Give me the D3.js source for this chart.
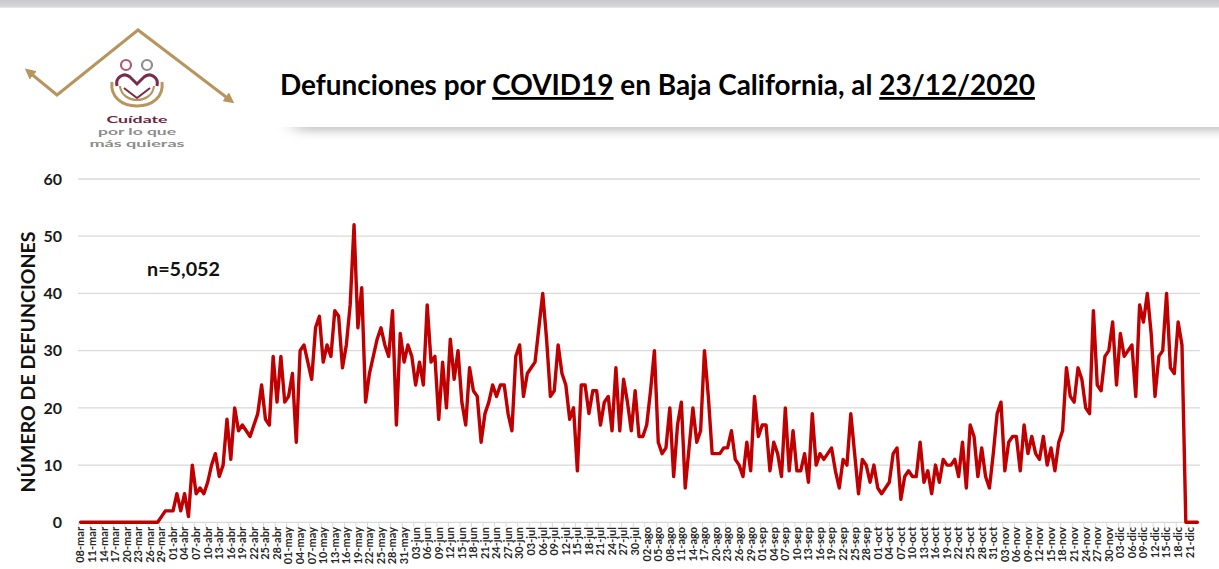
<!DOCTYPE html>
<html><head><meta charset="utf-8">
<script src="https://cdn.jsdelivr.net/npm/d3@7"></script>
<style>body{margin:0;background:#fff;overflow:hidden}svg{display:block}</style>
</head><body>
<svg id="c" width="1219" height="569"></svg>
<script>
// ---- data ----
const values = [
0,0,0,0,0,0,0,0,0,0,
0,0,0,0,0,0,0,0,0,0,
0,1,2,2,2,5,2,5,1,10,
5,6,5,7,10,12,8,10,18,11,
20,16,17,16,15,17,19,24,18,17,
29,21,29,21,22,26,14,30,31,28,
25,34,36,28,31,29,37,36,27,31,
38,52,34,41,21,26,29,32,34,31,
29,37,17,33,28,31,29,24,28,24,
38,28,29,18,28,20,32,25,30,21,
17,27,23,22,14,19,21,24,22,24,
24,19,16,29,31,22,26,27,28,34,
40,32,22,23,31,26,24,18,20,9,
24,24,19,23,23,17,21,22,16,27,
16,25,21,16,23,15,15,17,23,30,
14,12,13,20,8,17,21,6,13,20,
14,16,30,22,12,12,12,13,13,16,
11,10,8,14,9,22,15,17,17,9,
14,12,8,20,9,16,9,9,12,7,
19,10,12,11,12,13,9,6,11,10,
19,12,5,11,10,7,10,6,5,6,
7,12,13,4,8,9,8,8,14,7,
9,5,10,7,11,10,10,11,8,14,
6,17,15,8,13,8,6,12,19,21,
9,14,15,15,9,17,12,15,12,11,
15,10,13,9,14,16,27,22,21,27,
25,20,19,37,24,23,29,30,35,24,
33,29,30,31,22,38,35,40,33,22,
29,30,40,27,26,35,31,0,0,0,
0
];
const tickLabels = [
"08-mar","11-mar","14-mar","17-mar","20-mar","23-mar","26-mar","29-mar",
"01-abr","04-abr","07-abr","10-abr","13-abr","16-abr","19-abr","22-abr","25-abr","28-abr",
"01-may","04-may","07-may","10-may","13-may","16-may","19-may","22-may","25-may","28-may","31-may",
"03-jun","06-jun","09-jun","12-jun","15-jun","18-jun","21-jun","24-jun","27-jun","30-jun",
"03-jul","06-jul","09-jul","12-jul","15-jul","18-jul","21-jul","24-jul","27-jul","30-jul",
"02-ago","05-ago","08-ago","11-ago","14-ago","17-ago","20-ago","23-ago","26-ago","29-ago",
"01-sep","04-sep","07-sep","10-sep","13-sep","16-sep","19-sep","22-sep","25-sep","28-sep",
"01-oct","04-oct","07-oct","10-oct","13-oct","16-oct","19-oct","22-oct","25-oct","28-oct","31-oct",
"03-nov","06-nov","09-nov","12-nov","15-nov","18-nov","21-nov","24-nov","27-nov","30-nov",
"03-dic","06-dic","09-dic","12-dic","15-dic","18-dic","21-dic"
];
const labelStep = 3;
const yTicks = [0,10,20,30,40,50,60];
const titleParts = [
  {t:"Defunciones por ", u:false},{t:"COVID19", u:true},
  {t:" en Baja California, al ", u:false},{t:"23/12/2020", u:true}
];
const yTitle = "NÚMERO DE DEFUNCIONES";
const nLabel = "n=5,052";
const logoLines = ["Cuídate","por lo que","más quieras"];

// ---- drawing ----
const svg = d3.select("#c");
const defs = svg.append("defs");

function fit(sel, w){
  const fs = parseFloat(sel.attr("font-size"));
  const cw = sel.node().getComputedTextLength();
  sel.attr("font-size", (fs*w/cw).toFixed(2));
}

// top grey band
const tg = defs.append("linearGradient").attr("id","tg").attr("x1",0).attr("y1",0).attr("x2",0).attr("y2",1);
tg.append("stop").attr("offset","0%").attr("stop-color","#c9c9cd");
tg.append("stop").attr("offset","80%").attr("stop-color","#d6d6da");
tg.append("stop").attr("offset","100%").attr("stop-color","#eeeeef");
svg.append("rect").attr("x",0).attr("y",0).attr("width",1219).attr("height",8).attr("fill","url(#tg)");

// title shadow
const blur = defs.append("filter").attr("id","blur").attr("x","-10%").attr("y","-200%").attr("width","120%").attr("height","500%");
blur.append("feGaussianBlur").attr("stdDeviation","9 5");
svg.append("rect").attr("x",295).attr("y",118).attr("width",960).attr("height",13)
  .attr("fill","#c2c2c2").attr("filter","url(#blur)");
svg.append("rect").attr("x",260).attr("y",40).attr("width",960).attr("height",87).attr("fill","#fff");

// logo
const gold = "#b8955d";
const mk = defs.append("marker").attr("id","ah").attr("viewBox","0 0 10 10").attr("refX",5).attr("refY",5)
  .attr("markerWidth",3.6).attr("markerHeight",3.6).attr("orient","auto-start-reverse");
mk.append("path").attr("d","M0,0 L10,5 L0,10 z").attr("fill",gold);
svg.append("path").attr("d","M29,72 L57,95 L138,30 L230,100")
  .attr("fill","none").attr("stroke",gold).attr("stroke-width",3)
  .attr("marker-start","url(#ah)").attr("marker-end","url(#ah)");
svg.append("circle").attr("cx",126).attr("cy",65).attr("r",5).attr("fill","none").attr("stroke","#b25873").attr("stroke-width",2.2);
svg.append("circle").attr("cx",147).attr("cy",65).attr("r",5).attr("fill","none").attr("stroke","#8d8d8d").attr("stroke-width",2.2);
svg.append("path").attr("d","M112,82 C110,97 122,106 137,106 C152,106 164,97 162,82")
  .attr("fill","none").attr("stroke",gold).attr("stroke-width",3);
svg.append("path").attr("d","M120,86 C121,96 130,100 137,100 C144,100 153,96 154,86")
  .attr("fill","none").attr("stroke",gold).attr("stroke-width",2.2);
svg.append("path").attr("d","M117,86 C115,77 124,72 130,77 L137,84 L144,77 C150,72 159,77 157,86")
  .attr("fill","none").attr("stroke","#7a2b47").attr("stroke-width",3);
svg.append("path").attr("d","M124,88 C129,92 133,95 137,98 C141,95 145,92 150,88")
  .attr("fill","none").attr("stroke","#7a2b47").attr("stroke-width",2);
const logoSpec = [
  {y:123, w:61, fs:10, c:"#6e2441"},
  {y:135, w:78, fs:10, c:"#8c8c8c"},
  {y:147, w:95, fs:10, c:"#8c8c8c"}
];
svg.append("g").selectAll("text").data(logoLines).join("text")
  .attr("x",137).attr("y",(d,i)=>logoSpec[i].y).attr("text-anchor","middle")
  .attr("font-family","Lato").attr("font-weight","bold")
  .attr("font-size",(d,i)=>logoSpec[i].fs).attr("fill",(d,i)=>logoSpec[i].c)
  .attr("textLength",(d,i)=>logoSpec[i].w).attr("lengthAdjust","spacingAndGlyphs")
  .text(d=>d);

// title
const title = svg.append("text").attr("x",280).attr("y",95)
  .attr("font-family","Lato").attr("font-weight","bold").attr("font-size",24).attr("fill","#000");
title.selectAll("tspan").data(titleParts).join("tspan")
  .text(d=>d.t).style("text-decoration", d=>d.u?"underline":"none");
fit(title,755);

// scales
const x = d3.scaleBand().domain(d3.range(values.length)).range([78.7,1199.3]);
const cx = i => x(i) + x.bandwidth()/2;
const y = d3.scaleLinear().domain([0,60]).range([522.3,179]);

// gridlines
svg.append("g").selectAll("line").data(yTicks).join("line")
  .attr("x1",78).attr("x2",1200).attr("y1",d=>y(d)).attr("y2",d=>y(d))
  .attr("stroke","#d9d9d9").attr("stroke-width",1.3);

// y labels
svg.append("g").selectAll("text").data(yTicks).join("text")
  .attr("x",62).attr("y",d=>y(d)).attr("dy","0.36em").attr("text-anchor","end")
  .attr("font-family","Lato").attr("font-weight","bold").attr("font-size",16).attr("fill","#1a1a1a")
  .text(d=>d);

// x axis ticks and labels
const labelIdx = tickLabels.map((t,k)=>k*labelStep);
svg.append("g").selectAll("line").data(labelIdx).join("line")
  .attr("x1",d=>x(d)).attr("x2",d=>x(d)).attr("y1",522.3).attr("y2",527)
  .attr("stroke","#d9d9d9").attr("stroke-width",1);
svg.append("g").selectAll("text").data(tickLabels).join("text")
  .attr("transform",(d,k)=>`translate(${cx(k*labelStep)},527) rotate(-90)`)
  .attr("dy","0.35em").attr("text-anchor","end")
  .attr("font-family","Lato").attr("font-weight","bold").attr("font-size",11).attr("fill","#262626")
  .text(d=>d);

// y title
const yt = svg.append("text").attr("transform","translate(35,362) rotate(-90)").attr("text-anchor","middle")
  .attr("font-family","Lato").attr("font-weight","bold").attr("font-size",22).attr("fill","#111").text(yTitle);
fit(yt,261);

// n label
const nl = svg.append("text").attr("x",147).attr("y",276)
  .attr("font-family","Lato").attr("font-weight","bold").attr("font-size",18).attr("fill","#111").text(nLabel);
fit(nl,73);

// line
svg.append("path").datum(values)
  .attr("d", d3.line().x((d,i)=>cx(i)).y(d=>y(d)))
  .attr("fill","none").attr("stroke","#c00000").attr("stroke-width",3.4)
  .attr("stroke-linejoin","round").attr("stroke-linecap","round");
</script>
</body></html>
